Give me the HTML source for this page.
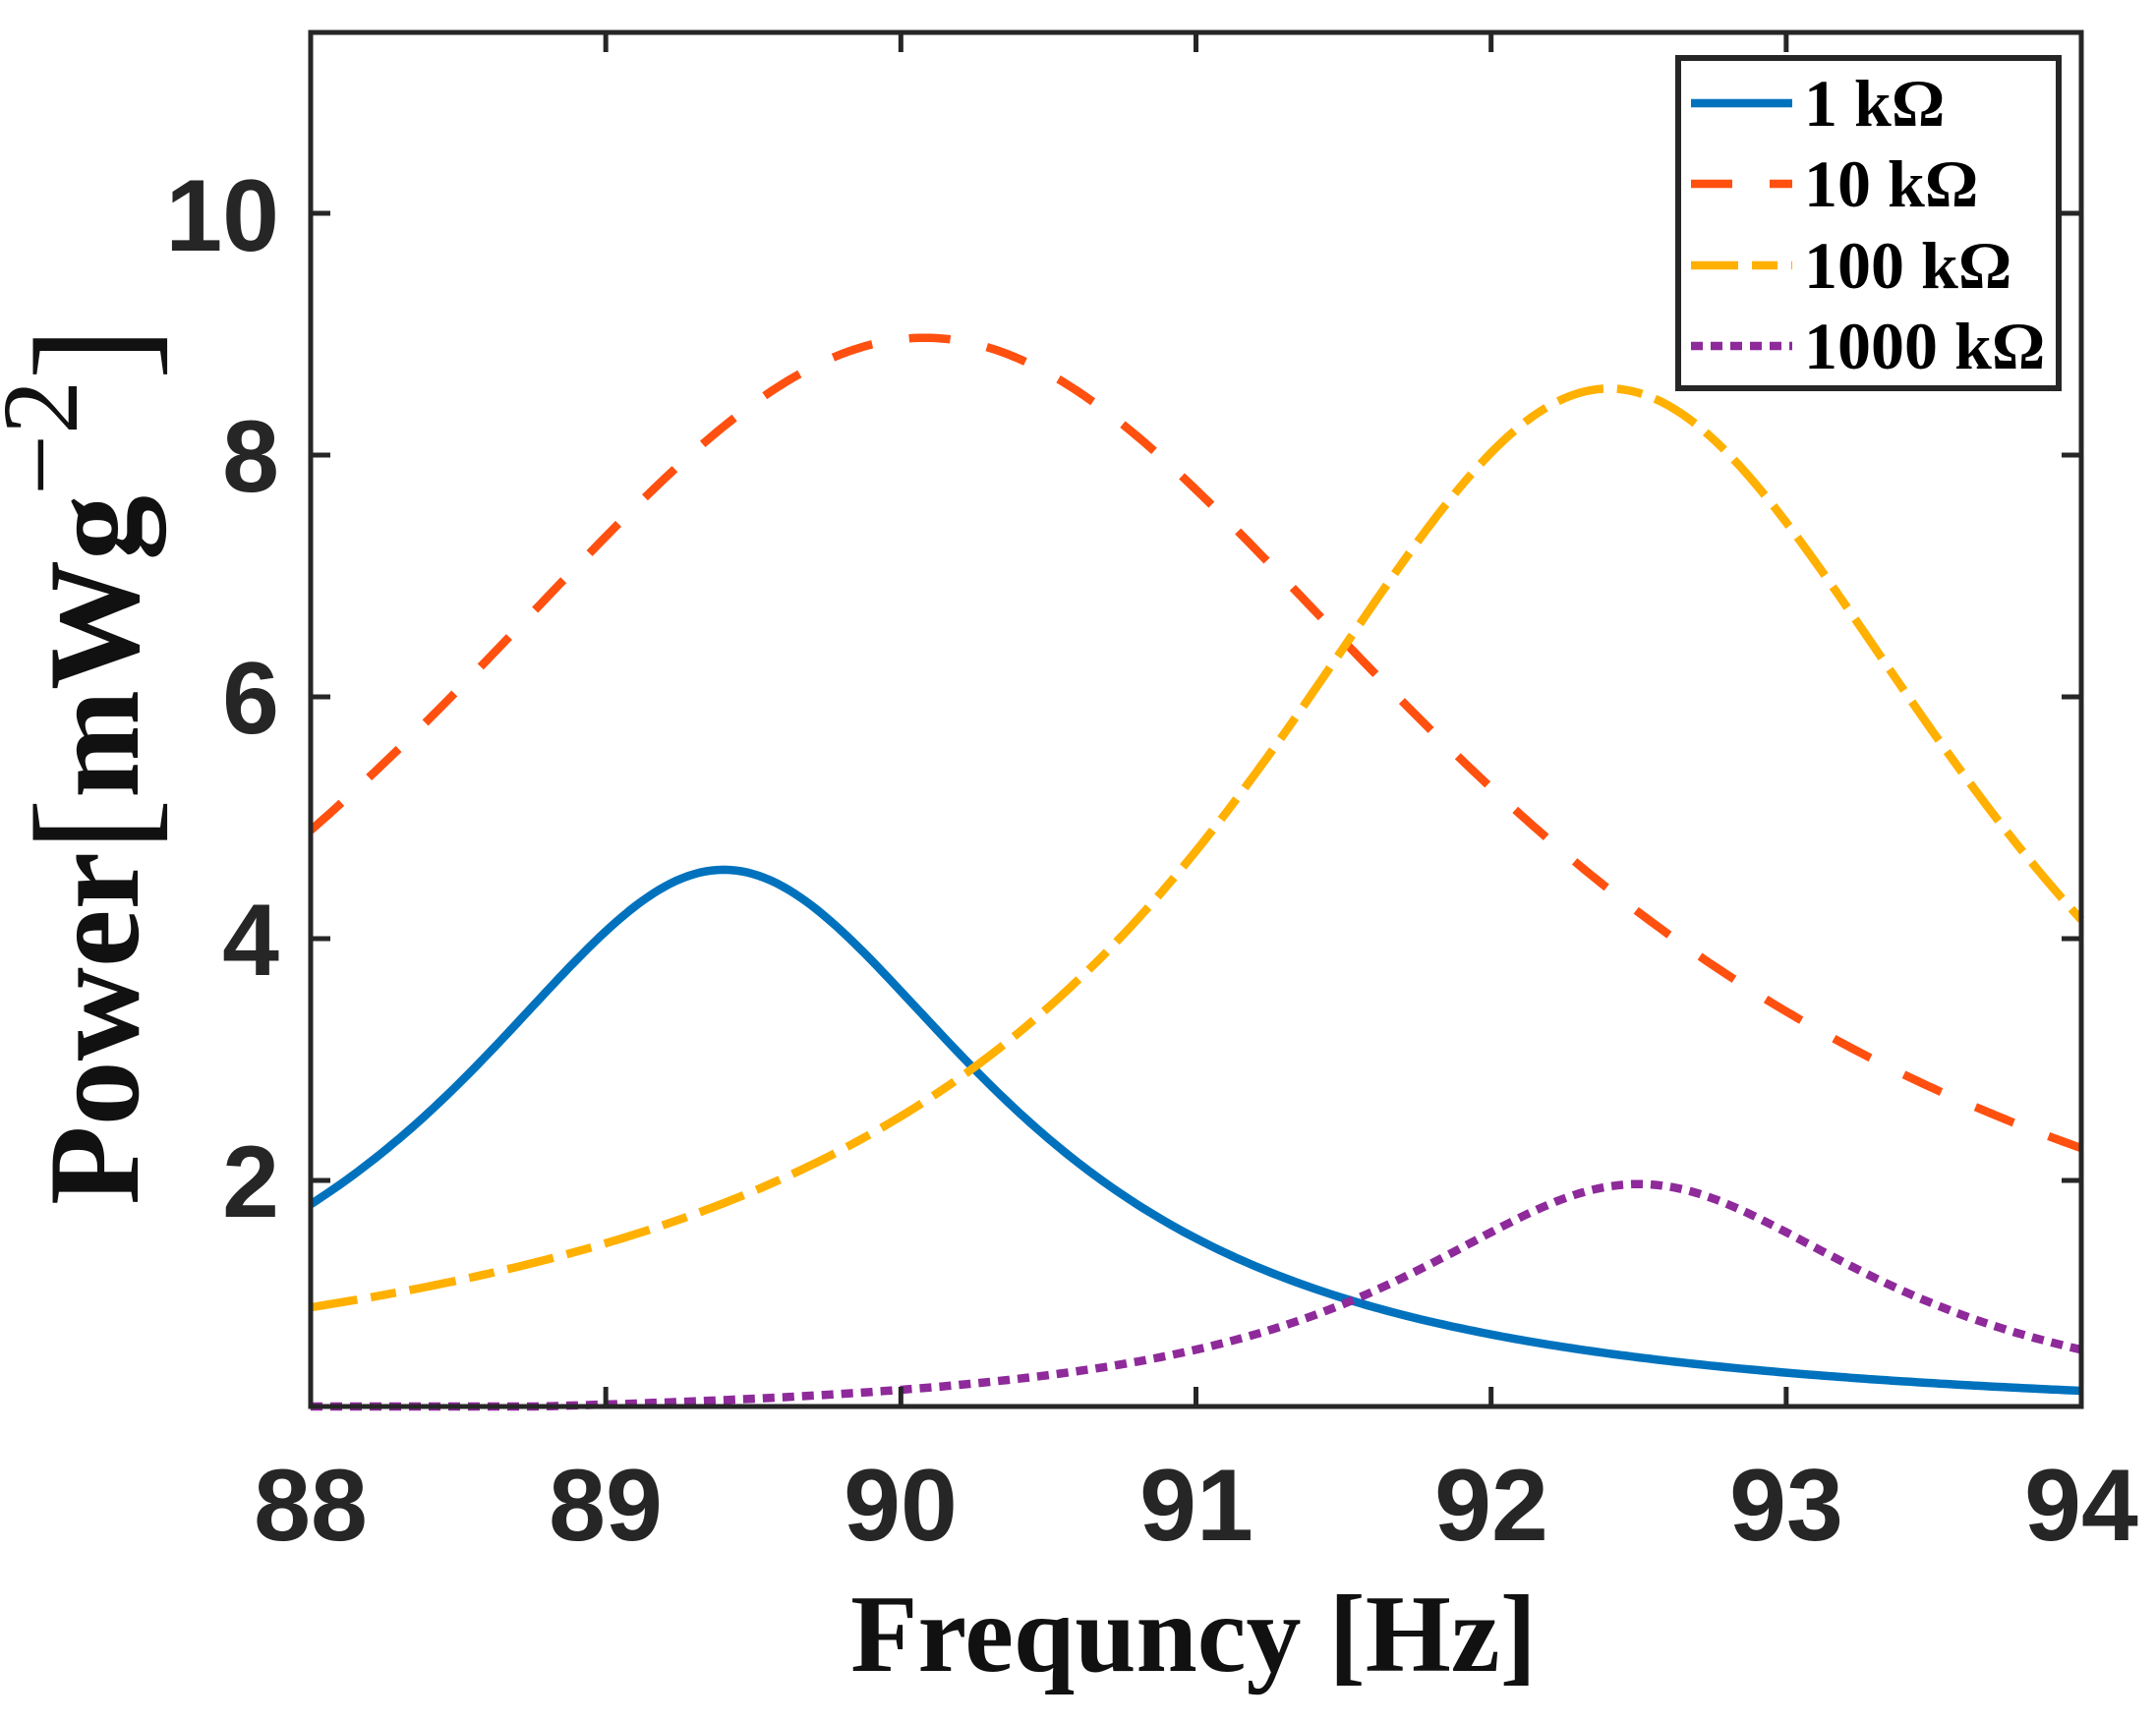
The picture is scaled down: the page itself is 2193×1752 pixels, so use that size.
<!DOCTYPE html>
<html><head><meta charset="utf-8"><style>
html,body{margin:0;padding:0;background:#fff;}
svg{display:block;}
</style></head><body>
<svg id="s" width="2193" height="1752" viewBox="0 0 2193 1752" xmlns="http://www.w3.org/2000/svg">
<rect width="2193" height="1752" fill="#fff"/>
<g id="curves" fill="none" stroke-width="8.5"></g>
<g id="axes" stroke="#262626" stroke-width="5" fill="none"></g>
<g font-family="'Liberation Sans',Arial,sans-serif" font-weight="bold" font-size="104" fill="#262626">
<text x="316" y="1567" text-anchor="middle">88</text>
<text x="616" y="1567" text-anchor="middle">89</text>
<text x="916" y="1567" text-anchor="middle">90</text>
<text x="1217" y="1567" text-anchor="middle">91</text>
<text x="1517" y="1567" text-anchor="middle">92</text>
<text x="1817" y="1567" text-anchor="middle">93</text>
<text x="2117" y="1567" text-anchor="middle">94</text>
<text x="284" y="1238" text-anchor="end">2</text>
<text x="284" y="992" text-anchor="end">4</text>
<text x="284" y="746" text-anchor="end">6</text>
<text x="284" y="500" text-anchor="end">8</text>
<text x="284" y="255" text-anchor="end">10</text>
</g>
<text x="1214" y="1700" text-anchor="middle" font-family="'Liberation Serif','Times New Roman',serif" font-weight="bold" font-size="112" fill="#111">Frequncy [Hz]</text>
<text transform="translate(140,1226) rotate(-90)" font-family="'Liberation Serif','Times New Roman',serif" font-weight="bold" font-size="132" fill="#111">Power<tspan font-weight="normal" font-size="165" dy="8">[</tspan><tspan dy="-8">mWg</tspan><tspan dy="-62" font-size="110" font-weight="normal">−2</tspan><tspan dy="70" font-weight="normal" font-size="165">]</tspan></text>
<rect x="1707" y="59" width="387" height="336" fill="#fff" stroke="#262626" stroke-width="6"/>
<g stroke-width="8.5" fill="none">
<line x1="1720" y1="105" x2="1823" y2="105" stroke="#0072BD"/>
<line x1="1720" y1="187" x2="1823" y2="187" stroke="#FF5010" stroke-dasharray="42 38"/>
<line x1="1720" y1="270" x2="1823" y2="270" stroke="#FFB000" stroke-dasharray="48 14 26 14"/>
<line x1="1720" y1="352" x2="1823" y2="352" stroke="#8E2A9A" stroke-dasharray="12 8"/>
</g>
<g font-family="'Liberation Serif','Times New Roman',serif" font-weight="bold" font-size="68" fill="#000">
<text x="1835" y="128">1 kΩ</text>
<text x="1835" y="210">10 kΩ</text>
<text x="1835" y="293">100 kΩ</text>
<text x="1835" y="375">1000 kΩ</text>
</g>
</svg>
<script>
(function(){
var NS="http://www.w3.org/2000/svg";
function X(f){return 316+(f-88)*300.17;}
function Y(p){return 1447-123*p;}
var series=[
 {A:4.57,f0:89.4,g:1.13,c:"#0072BD",d:""},
 {A:8.97,f0:90.08,g:2.28,c:"#FF5010",d:"42 38"},
 {A:8.55,f0:92.4,g:1.556,c:"#FFB000",d:"48 14 26 14"},
 {A:1.97,f0:92.5,g:0.993,c:"#8E2A9A",d:"12 8"}];
var cg=document.getElementById("curves");
series.forEach(function(s){
 var pts=[];
 for(var i=0;i<=300;i++){var f=88+6*i/300;var p=s.A/(1+Math.pow((f-s.f0)/s.g,2));
  var y=Y(p); if(y>1431)y=1431; pts.push(X(f).toFixed(1)+","+y.toFixed(1));}
 var pl=document.createElementNS(NS,"polyline");
 pl.setAttribute("points",pts.join(" "));
 pl.setAttribute("stroke",s.c);
 if(s.d)pl.setAttribute("stroke-dasharray",s.d);
 cg.appendChild(pl);
});
var ag=document.getElementById("axes");
function ln(x1,y1,x2,y2){var l=document.createElementNS(NS,"line");l.setAttribute("x1",x1);l.setAttribute("y1",y1);l.setAttribute("x2",x2);l.setAttribute("y2",y2);ag.appendChild(l);}
var r=document.createElementNS(NS,"rect");r.setAttribute("x",316);r.setAttribute("y",33);r.setAttribute("width",1801);r.setAttribute("height",1398);ag.appendChild(r);
for(var f=89;f<=93;f++){ln(X(f),1431,X(f),1411);ln(X(f),33,X(f),53);}
for(var p=2;p<=10;p+=2){ln(316,Y(p),336,Y(p));ln(2117,Y(p),2097,Y(p));}
})();
</script>
</body></html>
